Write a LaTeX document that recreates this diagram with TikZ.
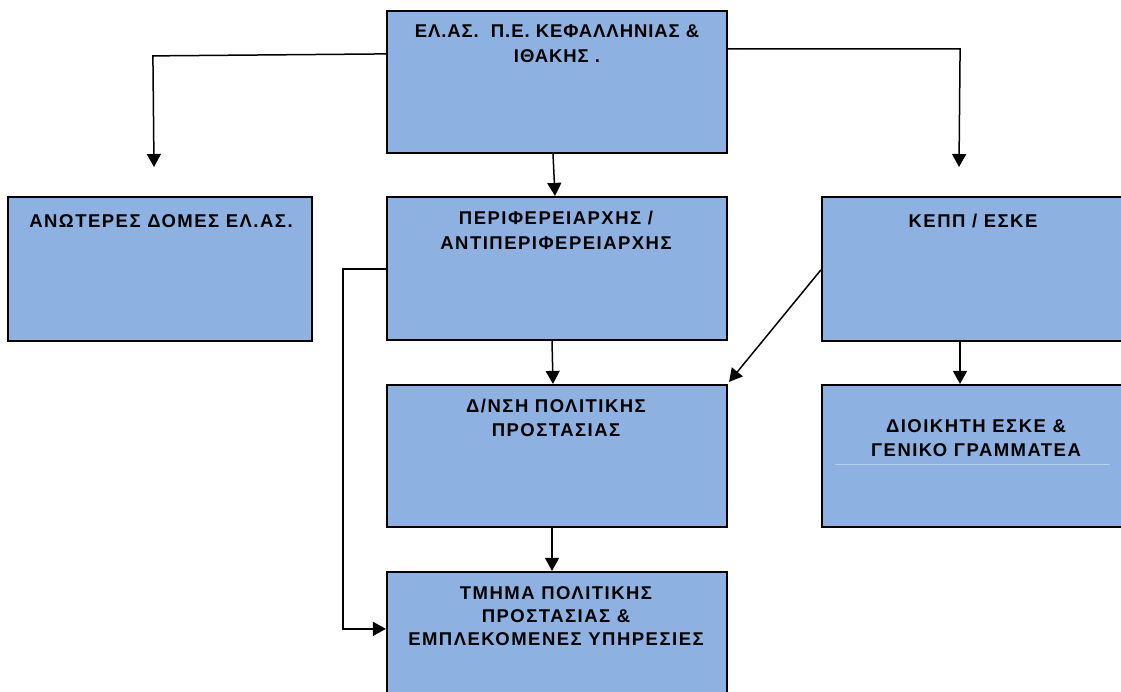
\documentclass[tikz,border=0pt]{standalone}
\usepackage{fontspec}
\setmainfont{Liberation Sans}
\newfontfamily\boxfont[LetterSpace=8]{Liberation Sans}
\newfontfamily\topfont[LetterSpace=5]{Liberation Sans}
\usetikzlibrary{arrows.meta}
\definecolor{boxblue}{RGB}{141,178,225}
\definecolor{thinblue}{RGB}{184,207,236}
\begin{document}
\begin{tikzpicture}[x=1pt,y=-1pt,
  box/.style={draw=black, line width=2.2pt, fill=boxblue, rectangle, inner sep=0pt},
  txt/.style={font=\boxfont\fontsize{18.5}{24}\selectfont\bfseries, align=center, inner sep=0pt, anchor=north},
  conn/.style={line width=1.5pt, -{Triangle[width=14pt,length=13pt]}}]
\clip (0,0) rectangle (1121,692);
\fill[white] (0,0) rectangle (1121,692);
% boxes
\node[box, minimum width=340pt, minimum height=142pt] (top) at (557,82) {};
\node[box, minimum width=304pt, minimum height=144pt] (upper) at (160,269) {};
\node[box, minimum width=340pt, minimum height=143pt] (reg) at (557,268.5) {};
\node[box, minimum width=302pt, minimum height=144pt] (kepp) at (973,269) {};
\node[box, minimum width=340pt, minimum height=142pt] (dir) at (557,456) {};
\node[box, minimum width=302pt, minimum height=142pt] (gen) at (973,456) {};
\node[box, minimum width=340pt, minimum height=160pt] (dept) at (557,652) {};
% texts
\node[txt, font=\topfont\fontsize{18.5}{25}\selectfont\bfseries] (ttop) at (557,24) {ΕΛ.ΑΣ.\ \ Π.Ε. ΚΕΦΑΛΛΗΝΙΑΣ \&\\ΙΘΑΚΗΣ .};
\node[txt] (tupper) at (161,214) {ΑΝΩΤΕΡΕΣ ΔΟΜΕΣ ΕΛ.ΑΣ.};
\node[txt, font=\boxfont\fontsize{18.5}{25}\selectfont\bfseries] (treg) at (556,211) {ΠΕΡΙΦΕΡΕΙΑΡΧΗΣ /\\ΑΝΤΙΠΕΡΙΦΕΡΕΙΑΡΧΗΣ};
\node[txt] (tkepp) at (973,214) {ΚΕΠΠ / ΕΣΚΕ};
\node[txt] (tdir) at (556,399) {Δ/ΝΣΗ ΠΟΛΙΤΙΚΗΣ\\ΠΡΟΣΤΑΣΙΑΣ};
\node[txt] (tgen) at (976,419) {ΔΙΟΙΚΗΤΗ ΕΣΚΕ \&\\ΓΕΝΙΚΟ ΓΡΑΜΜΑΤΕΑ};
\node[txt, font=\boxfont\fontsize{18.5}{23}\selectfont\bfseries] (tdept) at (556,586) {ΤΜΗΜΑ ΠΟΛΙΤΙΚΗΣ\\ΠΡΟΣΤΑΣΙΑΣ \&\\ΕΜΠΛΕΚΟΜΕΝΕΣ ΥΠΗΡΕΣΙΕΣ};
% thin line in gen box
\draw[thinblue, line width=0.8pt] ([xshift=14pt,yshift=-80pt]gen.north west) -- ([xshift=-15pt,yshift=-80pt]gen.north east);
% connectors
\coordinate (c1) at (154,167);
\coordinate (c2) at (959,167);
\draw[conn] ([yshift=-44pt]top.north west) -- ++(-233,2) -- (c1);
\draw[conn] ([yshift=-39pt]top.north east) -- ++(232,0) -- (c2);
\draw[conn] ([xshift=-4pt]top.south) -- ([xshift=-2pt]reg.north);
\draw[conn] ([xshift=-5pt]reg.south) -- ([xshift=-4pt]dir.north);
\draw[conn] ([xshift=-5pt]dir.south) -- ([xshift=-5pt]dept.north);
\draw[conn] ([yshift=-73pt]reg.north west) -- ++(-43,0) |- ([yshift=-58pt]dept.north west);
\draw[conn] ([yshift=-74pt]kepp.north west) -- ([xshift=1pt,yshift=2pt]dir.north east);
\draw[conn] ([xshift=-13pt]kepp.south) -- ([xshift=-13pt]gen.north);
\end{tikzpicture}
\end{document}
